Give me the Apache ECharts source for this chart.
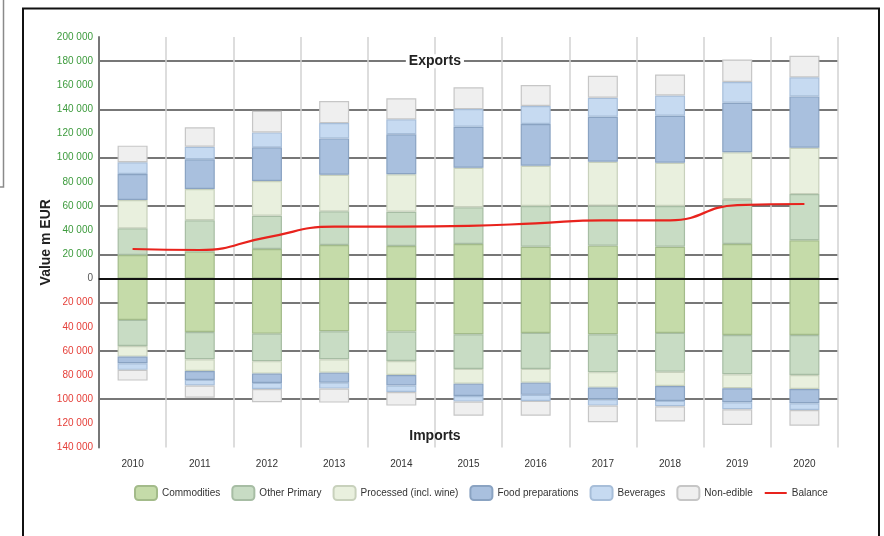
<!DOCTYPE html>
<html>
<head>
<meta charset="utf-8">
<script src="https://cdn.jsdelivr.net/npm/echarts@6/dist/echarts.min.js"></script>
<style>html,body{margin:0;padding:0;background:#fff}#c{width:884px;height:536px}</style>
</head>
<body>
<div id="c"></div>
<script>
const years = ['2010','2011','2012','2013','2014','2015','2016','2017','2018','2019','2020'];

// Exports (m EUR), stacked segments
const expCommodities = [19500, 22200, 24400, 27700, 26900, 28600, 26300, 27200, 26300, 28600, 31600];
const expOtherPrimary = [22000, 26000, 27600, 27900, 28400, 30300, 33700, 33100, 33700, 37000, 38300];
const expProcessed = [23500, 25900, 28700, 30300, 31000, 32800, 33400, 36400, 35900, 38900, 38400];
const expFoodPrep = [21500, 24600, 27900, 30100, 33100, 34000, 34500, 37200, 38900, 41000, 42500];
const expBeverages = [9700, 10400, 12400, 12700, 12400, 14600, 14900, 15800, 16800, 17200, 15800];
const expNonEdible = [13800, 16100, 17900, 18200, 17400, 18000, 17400, 18200, 17400, 18700, 17800];

// Imports (m EUR), stacked segments, plotted below zero
const impCommodities = [-34300, -44300, -45700, -43700, -44000, -46200, -45100, -46200, -45100, -46800, -46800];
const impOtherPrimary = [-21600, -22600, -22800, -23200, -24300, -28700, -29800, -31400, -32100, -32500, -33100];
const impProcessed = [-8800, -9700, -10300, -11100, -11600, -12200, -11400, -12800, -11800, -11600, -11600];
const impFoodPrep = [-5500, -7400, -7700, -8300, -8800, -10200, -10100, -9600, -12400, -11600, -11800];
const impBeverages = [-5500, -4700, -5000, -4900, -5300, -4700, -5000, -5300, -4400, -5800, -5600];
const impNonEdible = [-8900, -10000, -11000, -11600, -11300, -11600, -12200, -13700, -12700, -13000, -13000];

// Trade balance
const balance = [24400, 23600, 34100, 42900, 42900, 43500, 45700, 48200, 48200, 60800, 61700];

const segNames = ['Commodities', 'Other Primary', 'Processed (incl. wine)', 'Food preparations', 'Beverages', 'Non-edible'];
const expData = [expCommodities, expOtherPrimary, expProcessed, expFoodPrep, expBeverages, expNonEdible];
const impData = [impCommodities, impOtherPrimary, impProcessed, impFoodPrep, impBeverages, impNonEdible];
const fills = ['#c5dba9', '#c8dcc4', '#e9f0de', '#a9c0de', '#c6daf1', '#efefef'];
const borders = ['#a3bb8a', '#a7bda4', '#c8d1bc', '#8aa3c2', '#a7bed9', '#c6c6c6'];

const FONT = 'Liberation Sans, Arial, sans-serif';

function fmt(v) {
  const a = Math.abs(v);
  if (a === 0) return '0';
  return String(a).replace(/\B(?=(\d{3})+(?!\d))/g, ' ');
}

const series = [];
segNames.forEach((name, i) => {
  series.push({
    name: name, type: 'bar', stack: 'trade', barWidth: 30,
    data: expData[i],
    itemStyle: { color: fills[i], borderColor: borders[i], borderWidth: 1.2 },
    emphasis: { disabled: true }
  });
});
segNames.forEach((name, i) => {
  series.push({
    name: name, type: 'bar', stack: 'trade', barWidth: 30,
    data: impData[i],
    itemStyle: { color: fills[i], borderColor: borders[i], borderWidth: 1.2 },
    emphasis: { disabled: true }
  });
});
series[0].markLine = {
  silent: true, symbol: 'none', label: { show: false },
  lineStyle: { color: '#111', width: 2, type: 'solid' },
  data: [{ yAxis: 0 }], z: 10
};
series.push({
  name: 'Balance', type: 'line', data: balance, smooth: 0.5,
  symbol: 'none', z: 20,
  lineStyle: { color: '#e8231d', width: 2.2 },
  itemStyle: { color: '#e8231d' }
});

const frame = [
  { type: 'rect', silent: true, z: 100, shape: { x: 23, y: 8.5, width: 856, height: 540 },
    style: { fill: 'none', stroke: '#111', lineWidth: 2 } },
  { type: 'polyline', silent: true, z: 100, shape: { points: [[3.5, 0], [3.5, 187], [0, 187]] },
    style: { fill: 'none', stroke: '#8a8a8a', lineWidth: 1.5 } }
];

const chart = echarts.init(document.getElementById('c'), null, { renderer: 'canvas' });
chart.setOption({
  animation: false,
  backgroundColor: '#fff',
  textStyle: { fontFamily: FONT },
  grid: { left: 99, right: 46, top: 37, bottom: 88.5, containLabel: false, outerBoundsMode: 'none' },
  legend: {
    data: segNames.map(n => ({ name: n })).concat([{ name: 'Balance', itemStyle: { opacity: 0 } }]),
    left: 134, top: 485, padding: 0,
    itemWidth: 22, itemHeight: 14, itemGap: 11,
    textStyle: { fontSize: 10, color: '#333', fontFamily: FONT },
    selectedMode: false
  },
  xAxis: {
    type: 'category', data: years, offset: 6,
    axisLine: { show: true, lineStyle: { color: '#555', width: 2 } },
    axisTick: { show: false },
    axisLabel: { fontSize: 10, color: '#333', margin: 6, fontFamily: FONT },
    splitLine: { show: true, lineStyle: { color: '#d2d2d2', width: 1.5 } }
  },
  yAxis: {
    type: 'value', min: -140000, max: 200000, interval: 20000,
    name: 'Value m EUR', nameLocation: 'middle', nameGap: 46, nameMoveOverlap: false,
    nameTextStyle: { fontSize: 14, fontWeight: 'bold', color: '#222', fontFamily: FONT },
    axisLine: { show: true, lineStyle: { color: '#777', width: 2 } },
    axisTick: { show: false },
    axisLabel: {
      fontSize: 10, margin: 6, fontFamily: FONT,
      formatter: fmt,
      color: function (v) { return v > 0 ? '#3d9b3d' : (v < 0 ? '#e5403a' : '#555'); }
    },
    splitLine: { show: true, showMinLine: false, showMaxLine: true,
      lineStyle: { color: ['rgba(0,0,0,0)', '#4a4a4a'], width: 1.5 } }
  },
  series: series,
  graphic: frame
});

// Section labels placed on the value scale, centred on the 2014/2015 boundary
const p4 = chart.convertToPixel({ gridIndex: 0 }, [4, 180000]);
const p5 = chart.convertToPixel({ gridIndex: 0 }, [5, -131000]);
const cx = (p4[0] + p5[0]) / 2;
chart.setOption({
  graphic: frame.concat([
    { type: 'text', z: 50, x: cx, y: p4[1],
      style: { text: 'Exports', font: 'bold 14px ' + FONT, fill: '#222', align: 'center', verticalAlign: 'middle',
        backgroundColor: '#fff', padding: [0, 3, 0, 3] } },
    { type: 'text', z: 50, x: cx, y: p5[1],
      style: { text: 'Imports', font: 'bold 14px ' + FONT, fill: '#222', align: 'center', verticalAlign: 'middle' } }
  ])
}, { replaceMerge: ['graphic'] });
</script>
</body>
</html>
